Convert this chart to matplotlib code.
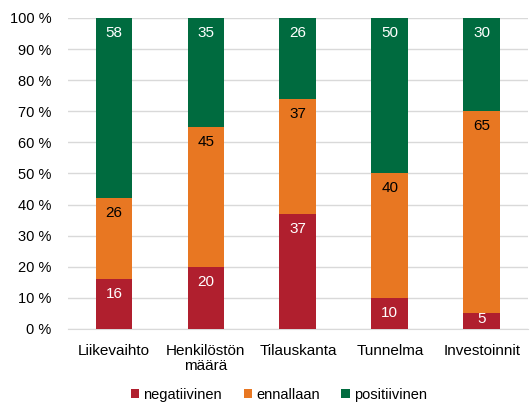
import matplotlib
matplotlib.use("Agg")
import matplotlib.pyplot as plt
import numpy as np

plt.rcParams['font.family'] = ['Liberation Sans', 'DejaVu Sans']

categories = ["Liikevaihto", "Henkilöstön\nmäärä", "Tilauskanta", "Tunnelma", "Investoinnit"]
negatiivinen = [16, 20, 37, 10, 5]
ennallaan = [26, 45, 37, 40, 65]
positiivinen = [58, 35, 26, 50, 30]
series_names = ["negatiivinen", "ennallaan", "positiivinen"]
colors = ["#B01F2E", "#E87722", "#006B3F"]
text_colors = ["white", "black", "white"]

fig = plt.figure(figsize=(5.31, 4.05), dpi=100)
ax = fig.add_axes([0.128, 0.1877, 0.866, 0.7679])

x = np.arange(len(categories))
bottom = np.zeros(len(categories))
px_per_unit = 311 / 100.0
for vals, name, c, tc in zip([negatiivinen, ennallaan, positiivinen], series_names, colors, text_colors):
    vals = np.array(vals, dtype=float)
    ax.bar(x, vals, 0.4, bottom=bottom, color=c, label=name, zorder=3)
    for xi, v, b in zip(x, vals, bottom):
        off = 15 / px_per_unit
        yy = b + v - off if v * px_per_unit >= 30 else b + v / 2 + 0.6
        ax.text(xi, yy, f"{int(v)}", ha="center", va="center",
                color=tc, fontsize=11, zorder=4)
    bottom += vals

ax.set_xlim(-0.5, len(categories) - 0.5)
ax.set_ylim(0, 100)
ax.set_yticks(np.arange(0, 101, 10))
ax.set_yticklabels([f"{v} %" for v in range(0, 101, 10)], fontsize=10.5)
ax.set_xticks(x)
ax.set_xticklabels(categories, fontsize=11, linespacing=1.1, va="top")
ax.tick_params(axis='y', length=0, pad=12)
ax.tick_params(axis='x', length=0, pad=11)
ax.grid(axis='y', color='#D9D9D9', linewidth=1, zorder=0)
for s in ["top", "right", "left"]:
    ax.spines[s].set_visible(False)
ax.spines["bottom"].set_color("#D9D9D9")

fig.legend(loc="center", bbox_to_anchor=(0.525, 0.025), ncol=3, frameon=False, fontsize=10.5,
           handlelength=0.6, handleheight=0.6, handletextpad=0.25, columnspacing=1.5)

fig.savefig("out.png", dpi=100)
